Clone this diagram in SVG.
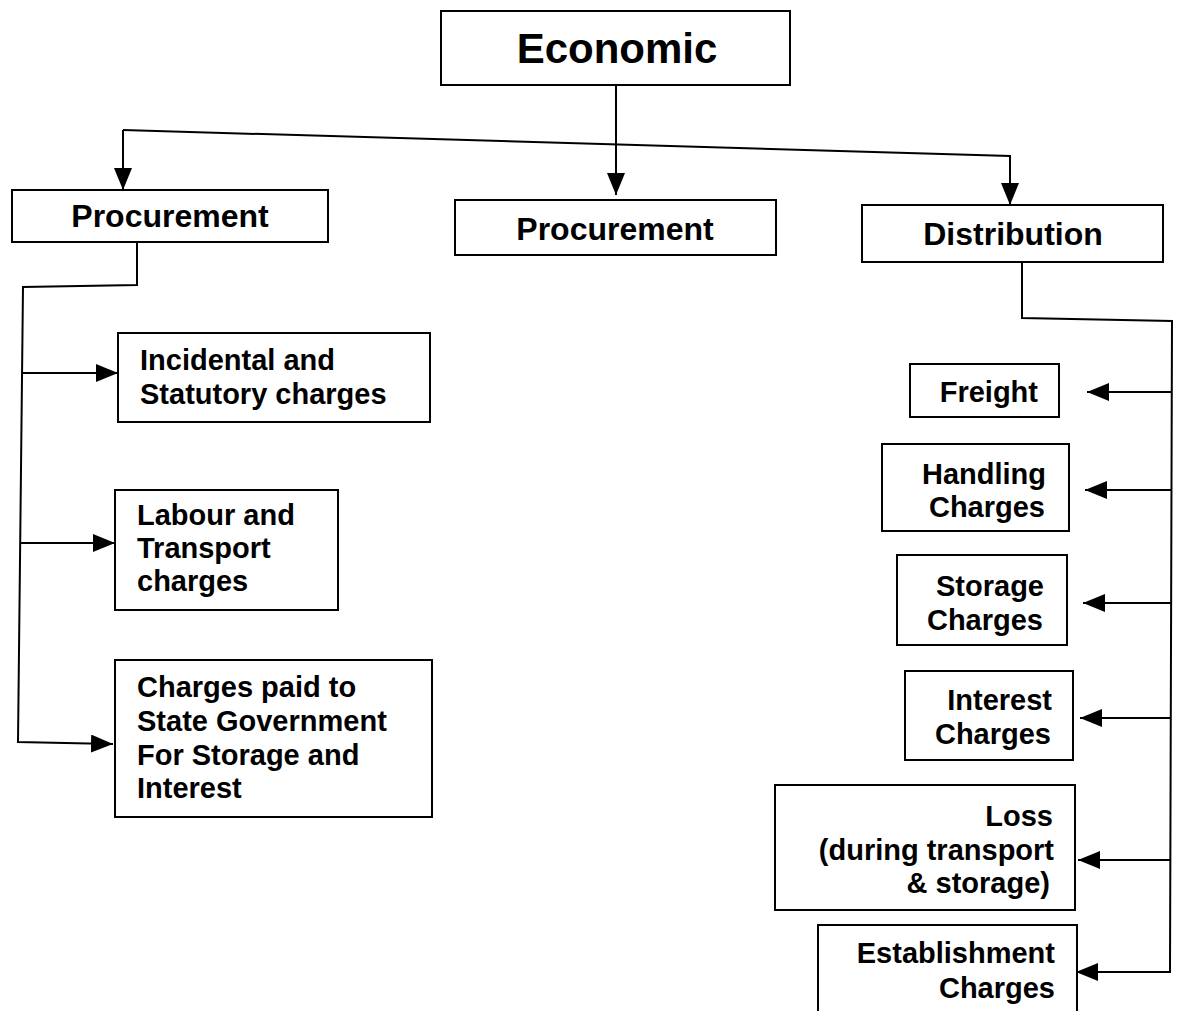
<svg xmlns="http://www.w3.org/2000/svg" width="1184" height="1011" viewBox="0 0 1184 1011">
<style>
.box{fill:#fff;stroke:#000;stroke-width:2}
.t{font-family:"Liberation Sans",Arial,sans-serif;font-weight:bold;font-size:29px;fill:#000}
.h{font-size:32px;text-anchor:middle}
.e{text-anchor:end}
.c{fill:none;stroke:#000;stroke-width:2}
</style>
<defs>
<marker id="ah" viewBox="0 0 22 18" refX="22" refY="9" markerWidth="22" markerHeight="18" markerUnits="userSpaceOnUse" orient="auto"><path d="M0,0 L22,9 L0,18 z" fill="#000"/></marker>
</defs>
<rect width="1184" height="1011" fill="#fff"/>
<g id="connectors">
<path class="c" d="M616,85 L616,195" marker-end="url(#ah)"/>
<path class="c" d="M123,130 L123,190" marker-end="url(#ah)"/>
<path class="c" d="M123,130 L1010,156 L1010,205" marker-end="url(#ah)"/>
<path class="c" d="M137,242 L137,285 L23,287 L18,742 L113,744" marker-end="url(#ah)"/>
<path class="c" d="M22,373 L118,373" marker-end="url(#ah)"/>
<path class="c" d="M20,543 L115,543" marker-end="url(#ah)"/>
<path class="c" d="M1022,262 L1022,318 L1172,321 L1170,972 L1076,972" marker-end="url(#ah)"/>
<path class="c" d="M1172,392 L1087,392" marker-end="url(#ah)"/>
<path class="c" d="M1172,490 L1085,490" marker-end="url(#ah)"/>
<path class="c" d="M1171,603 L1083,603" marker-end="url(#ah)"/>
<path class="c" d="M1171,718 L1080,718" marker-end="url(#ah)"/>
<path class="c" d="M1170,860 L1078,860" marker-end="url(#ah)"/>
</g>
<g id="economic"><rect class="box" x="441" y="11" width="349" height="74"/><text class="t h" x="617" y="63" style="font-size:42px">Economic</text></g>
<g id="procurement-left"><rect class="box" x="12" y="190" width="316" height="52"/><text class="t h" x="170" y="227">Procurement</text></g>
<g id="procurement-mid"><rect class="box" x="455" y="200" width="321" height="55"/><text class="t h" x="615" y="240">Procurement</text></g>
<g id="distribution"><rect class="box" x="862" y="205" width="301" height="57"/><text class="t h" x="1013" y="245">Distribution</text></g>
<g id="incidental"><rect class="box" x="118" y="333" width="312" height="89"/><text class="t" x="140" y="370">Incidental and</text><text class="t" x="140" y="404">Statutory charges</text></g>
<g id="labour"><rect class="box" x="115" y="490" width="223" height="120"/><text class="t" x="137" y="525">Labour and</text><text class="t" x="137" y="558">Transport</text><text class="t" x="137" y="591">charges</text></g>
<g id="charges-paid"><rect class="box" x="115" y="660" width="317" height="157"/><text class="t" x="137" y="697">Charges paid to</text><text class="t" x="137" y="731">State Government</text><text class="t" x="137" y="765">For Storage and</text><text class="t" x="137" y="798">Interest</text></g>
<g id="freight"><rect class="box" x="910" y="364" width="149" height="53"/><text class="t e" x="1038" y="402">Freight</text></g>
<g id="handling"><rect class="box" x="882" y="444" width="187" height="87"/><text class="t e" x="1046" y="484">Handling</text><text class="t e" x="1045" y="517">Charges</text></g>
<g id="storage"><rect class="box" x="897" y="555" width="170" height="90"/><text class="t e" x="1044" y="596">Storage</text><text class="t e" x="1043" y="630">Charges</text></g>
<g id="interest"><rect class="box" x="905" y="671" width="168" height="89"/><text class="t e" x="1052" y="710">Interest</text><text class="t e" x="1051" y="744">Charges</text></g>
<g id="loss"><rect class="box" x="775" y="785" width="300" height="125"/><text class="t e" x="1053" y="826">Loss</text><text class="t e" x="1054" y="860">(during transport</text><text class="t e" x="1050" y="893">&amp; storage)</text></g>
<g id="establishment"><rect class="box" x="818" y="925" width="259" height="100"/><text class="t e" x="1055" y="963">Establishment</text><text class="t e" x="1055" y="998">Charges</text></g>
</svg>
